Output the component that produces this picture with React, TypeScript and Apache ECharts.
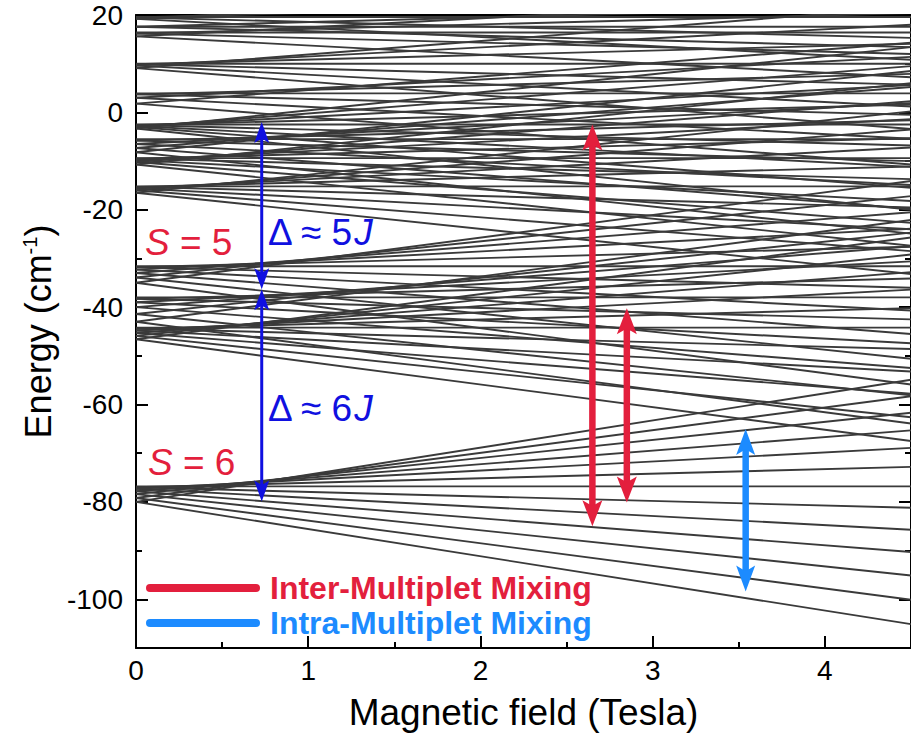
import React, { useEffect, useRef } from "react";
import * as echarts from "echarts";

// ---------- data ----------
const FIELD_MIN = 0;
const FIELD_MAX = 4.5; // Tesla
const ENERGY_MIN = -110;
const ENERGY_MAX = 20;

// Energies (cm^-1) of each Zeeman level at B = 0 and at B = FIELD_MAX
const s6AtZero = [-80.0, -79.2, -78.4, -77.8, -77.3, -77.0, -76.8, -77.0, -77.3, -77.8, -78.4, -79.2, -80.0];
const s6AtMax = [-105.1, -100.1, -95.1, -90.3, -85.7, -81.2, -76.8, -72.8, -68.9, -65.3, -61.7, -58.3, -54.9];

const s5aAtZero = [-46.6, -45.9, -45.3, -44.8, -44.4, -44.2, -44.4, -44.8, -45.3, -45.9, -46.6];
const s5aAtMax = [-67.5, -62.6, -57.8, -53.2, -48.6, -44.2, -40.2, -36.4, -32.8, -29.2, -25.7];

const s5bAtZero = [-43.0, -41.4, -40.0, -39.0, -38.3, -38.0, -38.3, -39.0, -40.0, -41.4, -43.0];
const s5bAtMax = [-63.9, -58.1, -52.5, -47.4, -42.5, -38.0, -34.1, -30.6, -27.5, -24.7, -22.1];

const s5cAtZero = [-35.0, -33.9, -33.0, -32.3, -31.8, -31.6, -31.8, -32.3, -33.0, -33.9, -35.0];
const s5cAtMax = [-55.9, -50.6, -45.5, -40.7, -36.0, -31.6, -27.6, -23.9, -20.5, -17.2, -14.1];

const s4aAtZero = [-16.5, -16.0, -15.6, -15.3, -15.2, -15.3, -15.6, -16.0, -16.5];
const s4aAtMax = [-33.2, -28.5, -24.0, -19.5, -15.2, -11.1, -7.2, -3.5, 0.2];

const s4bAtZero = [-8.2, -7.3, -6.5, -5.8, -5.5, -5.8, -6.5, -7.3, -8.2];
const s4bAtMax = [-24.9, -19.8, -14.9, -10.0, -5.5, -1.6, 1.9, 5.2, 8.5];

const s4cAtZero = [-10.7, -10.2, -9.8, -9.5, -9.4, -9.5, -9.8, -10.2, -10.7];
const s4cAtMax = [-27.4, -22.7, -18.2, -13.7, -9.4, -5.3, -1.4, 2.3, 6.0];

const s4dAtZero = [-3.3, -3.0, -2.8, -2.6, -2.5, -2.6, -2.8, -3.0, -3.3];
const s4dAtMax = [-20.0, -15.5, -11.2, -6.8, -2.5, 1.6, 5.6, 9.5, 13.4];

const s3aAtZero = [1.8, 3.0, 3.7, 3.9, 3.7, 3.0, 1.8];
const s3aAtMax = [-10.7, -5.4, -0.5, 3.9, 7.9, 11.4, 14.3];

const s3bAtZero = [9.1, 9.6, 9.9, 10.0, 9.9, 9.6, 9.1];
const s3bAtMax = [-3.4, 1.2, 5.7, 10.0, 14.1, 18.0, 21.6];

const s2aAtZero = [15.6, 16.2, 16.4, 16.2, 15.6];
const s2aAtMax = [7.2, 12.0, 16.4, 20.4, 24.0];

const s1AtZero = [17.6, 17.6, 17.6];
const s1AtMax = [13.4, 17.6, 21.8];

const s2bAtZero = [19.2, 19.5, 19.6, 19.5, 19.2];
const s2bAtMax = [10.8, 15.3, 19.6, 23.7, 27.6];

// Arrows: field position, top and bottom energy, style kind
const arrowField = [0.73, 0.73, 2.65, 2.85, 3.54];
const arrowTop = [-2.0, -36.3, -2.5, -40.2, -65.0];
const arrowBottom = [-36.3, -79.9, -85.0, -80.1, -98.4];
const arrowKind = [0, 0, 1, 1, 2];

// ---------- styles ----------
const FONT = "'Liberation Sans', Arial, Helvetica, sans-serif";
const RED = "#e31f3d";
const BLUE = "#1010e0";
const LIGHT_BLUE = "#1c8bff";
const LINE_GRAY = "#3a3a3a";

const arrowStyles = [
  { color: BLUE, shaft: 3, headW: 15, headL: 21 },
  { color: RED, shaft: 6.5, headW: 20, headL: 26 },
  { color: LIGHT_BLUE, shaft: 6.5, headW: 19, headL: 26 },
];

const levelGroups: [number[], number[]][] = [
  [s6AtZero, s6AtMax],
  [s5aAtZero, s5aAtMax],
  [s5bAtZero, s5bAtMax],
  [s5cAtZero, s5cAtMax],
  [s4aAtZero, s4aAtMax],
  [s4bAtZero, s4bAtMax],
  [s4cAtZero, s4cAtMax],
  [s4dAtZero, s4dAtMax],
  [s3aAtZero, s3aAtMax],
  [s3bAtZero, s3bAtMax],
  [s2aAtZero, s2aAtMax],
  [s1AtZero, s1AtMax],
  [s2bAtZero, s2bAtMax],
];

function buildOption() {
  const levelSeries: any[] = [];
  levelGroups.forEach(([zero, high]) => {
    zero.forEach((e0, i) => {
      levelSeries.push({
        type: "line",
        xAxisIndex: 0,
        yAxisIndex: 0,
        data: [
          [FIELD_MIN, e0],
          [FIELD_MAX, high[i]],
        ],
        showSymbol: false,
        symbol: "none",
        silent: true,
        clip: true,
        lineStyle: { color: LINE_GRAY, width: 1.9 },
        z: 2,
      });
    });
  });

  const arrowData = arrowField.map((x, i) => [x, arrowTop[i], arrowBottom[i], arrowKind[i]]);

  const arrowSeries = {
    type: "custom",
    xAxisIndex: 0,
    yAxisIndex: 0,
    silent: true,
    z: 5,
    data: arrowData,
    encode: { x: 0, y: [1, 2] },
    renderItem: (params: any, api: any) => {
      const x = api.value(0);
      const top = api.coord([x, api.value(1)]);
      const bot = api.coord([x, api.value(2)]);
      const st = arrowStyles[api.value(3)];
      const cx = top[0];
      const tY = top[1];
      const bY = bot[1];
      const w = st.headW / 2;
      const L = st.headL;
      return {
        type: "group",
        children: [
          {
            type: "line",
            shape: { x1: cx, y1: tY + L * 0.7, x2: cx, y2: bY - L * 0.7 },
            style: { stroke: st.color, lineWidth: st.shaft },
          },
          {
            type: "polygon",
            shape: {
              points: [
                [cx, tY],
                [cx + w, tY + L],
                [cx, tY + L * 0.78],
                [cx - w, tY + L],
              ],
            },
            style: { fill: st.color },
          },
          {
            type: "polygon",
            shape: {
              points: [
                [cx, bY],
                [cx + w, bY - L],
                [cx, bY - L * 0.78],
                [cx - w, bY - L],
              ],
            },
            style: { fill: st.color },
          },
        ],
      };
    },
  };

  const axisLineStyle = { color: "#000", width: 2 };

  return {
    animation: false,
    backgroundColor: "#fff",
    grid: { left: 136, top: 15, right: -5, bottom: 94 },
    xAxis: [
      {
        type: "value",
        position: "bottom",
        min: FIELD_MIN,
        max: FIELD_MAX,
        interval: 1,
        axisLine: { show: true, onZero: false, lineStyle: axisLineStyle },
        axisTick: { show: true, inside: true, length: 12, lineStyle: { color: "#000", width: 2 } },
        axisLabel: {
          show: true,
          color: "#000",
          fontSize: 28,
          fontFamily: FONT,
          margin: 8,
          showMaxLabel: false,
        },
        splitLine: { show: false },
        name: "Magnetic field (Tesla)",
        nameLocation: "middle",
        nameGap: 46,
        nameTextStyle: { color: "#000", fontSize: 37, fontFamily: FONT },
      },
      {
        type: "value",
        position: "bottom",
        min: FIELD_MIN,
        max: FIELD_MAX,
        interval: 0.5,
        axisLine: { show: false, onZero: false },
        axisTick: { show: true, inside: true, length: 6, lineStyle: { color: "#000", width: 2 } },
        axisLabel: { show: false },
        splitLine: { show: false },
      },
      {
        type: "value",
        position: "top",
        min: FIELD_MIN,
        max: FIELD_MAX,
        interval: 1,
        axisLine: { show: true, onZero: false, lineStyle: axisLineStyle },
        axisTick: { show: false },
        axisLabel: { show: false },
        splitLine: { show: false },
      },
    ],
    yAxis: [
      {
        type: "value",
        position: "left",
        min: ENERGY_MIN,
        max: ENERGY_MAX,
        minInterval: 20,
        maxInterval: 20,
        splitNumber: 6,
        axisLine: { show: true, onZero: false, lineStyle: axisLineStyle },
        axisTick: { show: true, inside: true, length: 12, lineStyle: { color: "#000", width: 2 } },
        axisLabel: {
          show: true,
          color: "#000",
          fontSize: 28,
          fontFamily: FONT,
          margin: 13,
          showMinLabel: false,
        },
        splitLine: { show: false },
        name: "Energy (cm{sup|-1})",
        nameLocation: "middle",
        nameGap: 80,
        nameTextStyle: {
          color: "#000",
          fontSize: 36,
          fontFamily: FONT,
          rich: {
            sup: { fontSize: 20, fontFamily: FONT, color: "#000", verticalAlign: "top", padding: [0, 0, 14, 0] },
          },
        },
      },
      {
        type: "value",
        position: "left",
        min: ENERGY_MIN,
        max: ENERGY_MAX,
        interval: 10,
        axisLine: { show: false, onZero: false },
        axisTick: { show: true, inside: true, length: 6, lineStyle: { color: "#000", width: 2 } },
        axisLabel: { show: false },
        splitLine: { show: false },
      },
      {
        type: "value",
        position: "right",
        min: ENERGY_MIN,
        max: ENERGY_MAX,
        minInterval: 20,
        maxInterval: 20,
        splitNumber: 6,
        axisLine: { show: true, onZero: false, lineStyle: axisLineStyle },
        axisTick: { show: true, inside: true, length: 12, lineStyle: { color: "#000", width: 2 } },
        axisLabel: { show: false },
        splitLine: { show: false },
      },
      {
        type: "value",
        position: "right",
        min: ENERGY_MIN,
        max: ENERGY_MAX,
        interval: 10,
        axisLine: { show: false, onZero: false },
        axisTick: { show: true, inside: true, length: 6, lineStyle: { color: "#000", width: 2 } },
        axisLabel: { show: false },
        splitLine: { show: false },
      },
    ],
    graphic: [
      {
        type: "text",
        x: 145,
        y: 242,
        z: 10,
        style: {
          text: "{i|S} = 5",
          fill: RED,
          fontSize: 37,
          fontFamily: FONT,
          align: "left",
          verticalAlign: "middle",
          rich: { i: { fontStyle: "italic", fontSize: 37, fontFamily: FONT, fill: RED } },
        },
      },
      {
        type: "text",
        x: 148,
        y: 462,
        z: 10,
        style: {
          text: "{i|S} = 6",
          fill: RED,
          fontSize: 37,
          fontFamily: FONT,
          align: "left",
          verticalAlign: "middle",
          rich: { i: { fontStyle: "italic", fontSize: 37, fontFamily: FONT, fill: RED } },
        },
      },
      {
        type: "text",
        x: 268,
        y: 232,
        z: 10,
        style: {
          text: "\u0394 \u2248 5{i|J}",
          fill: BLUE,
          fontSize: 37,
          fontFamily: FONT,
          align: "left",
          verticalAlign: "middle",
          rich: { i: { fontStyle: "italic", fontSize: 37, fontFamily: FONT, fill: BLUE } },
        },
      },
      {
        type: "text",
        x: 268,
        y: 408,
        z: 10,
        style: {
          text: "\u0394 \u2248 6{i|J}",
          fill: BLUE,
          fontSize: 37,
          fontFamily: FONT,
          align: "left",
          verticalAlign: "middle",
          rich: { i: { fontStyle: "italic", fontSize: 37, fontFamily: FONT, fill: BLUE } },
        },
      },
      {
        type: "line",
        z: 10,
        shape: { x1: 150, y1: 588, x2: 256, y2: 588 },
        style: { stroke: RED, lineWidth: 8, lineCap: "round" },
      },
      {
        type: "line",
        z: 10,
        shape: { x1: 150, y1: 623, x2: 256, y2: 623 },
        style: { stroke: LIGHT_BLUE, lineWidth: 8, lineCap: "round" },
      },
      {
        type: "text",
        x: 270,
        y: 588,
        z: 10,
        style: {
          text: "Inter-Multiplet Mixing",
          fill: RED,
          fontSize: 32,
          fontWeight: "bold",
          fontFamily: FONT,
          align: "left",
          verticalAlign: "middle",
        },
      },
      {
        type: "text",
        x: 270,
        y: 623,
        z: 10,
        style: {
          text: "Intra-Multiplet Mixing",
          fill: LIGHT_BLUE,
          fontSize: 32,
          fontWeight: "bold",
          fontFamily: FONT,
          align: "left",
          verticalAlign: "middle",
        },
      },
    ],
    series: [...levelSeries, arrowSeries],
  };
}

export default function App() {
  const ref = useRef<HTMLDivElement>(null);
  useEffect(() => {
    if (!ref.current) return;
    const chart = echarts.init(ref.current, undefined, { renderer: "svg" });
    chart.setOption(buildOption() as any);
    return () => {
      chart.dispose();
    };
  }, []);
  return (
    <div
      ref={ref}
      style={{ position: "fixed", left: 0, top: 0, width: 911, height: 742, background: "#fff" }}
    />
  );
}
